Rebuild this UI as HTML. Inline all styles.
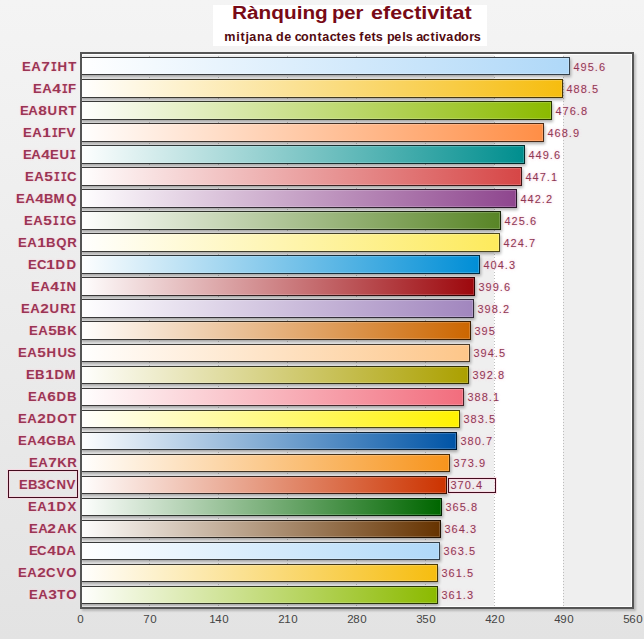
<!DOCTYPE html><html><head><meta charset="utf-8"><style>
*{margin:0;padding:0;box-sizing:border-box}
html,body{width:644px;height:639px;overflow:hidden}
body{position:relative;background:linear-gradient(to bottom,#f4f4f4 0px,#e3e3e3 639px);font-family:"Liberation Sans",sans-serif}
.a{position:absolute}
.t{position:absolute;white-space:nowrap;line-height:1.117}
.tbox{left:213px;top:5px;width:274px;height:41px;background:#fff}
.title{font-weight:bold;font-size:18px;color:#780a16;transform-origin:0 0}
.sub{font-weight:bold;font-size:12px;color:#520a10;transform-origin:0 0}
.plot{left:80px;top:52px;width:554px;height:557px;border:2px solid #555555;box-shadow:2px 2px 2px rgba(0,0,0,0.2)}
.band{top:54px;height:553px}
.grid{top:56px;height:550px;width:1px;background:repeating-linear-gradient(to bottom,#bdbdbd 0,#bdbdbd 1px,transparent 1px,transparent 3px)}
.bar{left:81px;}
.val{font-size:11px;color:#8c3654;transform-origin:0 0;text-shadow:0 0 2px rgba(240,150,175,0.5),0 0 4px rgba(255,240,245,0.9),0 0 4px rgba(255,240,245,0.9)}
.cat{font-size:12px;font-weight:bold;color:#9a3454;text-align:right;text-shadow:0 0 2px rgba(240,150,175,0.45),0 0 4px rgba(255,240,245,0.8)}
.xl{font-size:10px;color:#444;transform-origin:50% 0;text-align:center;width:40px}
.box{border:1px solid #420c1e;box-shadow:0 0 0 1px rgba(255,205,220,0.55),inset 0 0 0 1px rgba(255,205,220,0.55)}
.c{display:inline-block;text-align:center}
</style></head><body>

<div class="a tbox"></div>
<div class="t title" style="left:231.55px;top:2.71px;transform:scaleX(1.1543)">Rànquing</div>
<div class="t title" style="left:332.48px;top:2.71px;transform:scaleX(1.1222)">per</div>
<div class="t title" style="left:371.20px;top:2.71px;transform:scaleX(1.1976)">efectivitat</div>
<div class="t sub" style="left:224.1px;top:31.14px"><span class="c" style="width:11.797px;transform:scaleX(1.050)">m</span><span class="c" style="width:3.813px;transform:scaleX(1.050)">i</span><span class="c" style="width:5.084px;transform:scaleX(1.050)">t</span><span class="c" style="width:4.493px;transform:scaleX(1.050)">j</span><span class="c" style="width:7.448px;transform:scaleX(1.050)">a</span><span class="c" style="width:7.939px;transform:scaleX(1.050)">n</span><span class="c" style="width:7.448px;transform:scaleX(1.050)">a</span><span class="c" style="width:3.813px"> </span><span class="c" style="width:7.794px;transform:scaleX(1.050)">d</span><span class="c" style="width:7.404px;transform:scaleX(1.050)">e</span><span class="c" style="width:3.813px"> </span><span class="c" style="width:6.556px;transform:scaleX(1.050)">c</span><span class="c" style="width:7.660px;transform:scaleX(1.050)">o</span><span class="c" style="width:7.939px;transform:scaleX(1.050)">n</span><span class="c" style="width:5.084px;transform:scaleX(1.050)">t</span><span class="c" style="width:7.448px;transform:scaleX(1.050)">a</span><span class="c" style="width:6.556px;transform:scaleX(1.050)">c</span><span class="c" style="width:5.084px;transform:scaleX(1.050)">t</span><span class="c" style="width:7.404px;transform:scaleX(1.050)">e</span><span class="c" style="width:6.612px;transform:scaleX(1.050)">s</span><span class="c" style="width:3.813px"> </span><span class="c" style="width:4.705px;transform:scaleX(1.050)">f</span><span class="c" style="width:7.404px;transform:scaleX(1.050)">e</span><span class="c" style="width:5.084px;transform:scaleX(1.050)">t</span><span class="c" style="width:6.612px;transform:scaleX(1.050)">s</span><span class="c" style="width:3.813px"> </span><span class="c" style="width:7.794px;transform:scaleX(1.050)">p</span><span class="c" style="width:7.404px;transform:scaleX(1.050)">e</span><span class="c" style="width:3.813px;transform:scaleX(1.050)">l</span><span class="c" style="width:6.612px;transform:scaleX(1.050)">s</span><span class="c" style="width:3.813px"> </span><span class="c" style="width:7.448px;transform:scaleX(1.050)">a</span><span class="c" style="width:6.556px;transform:scaleX(1.050)">c</span><span class="c" style="width:5.084px;transform:scaleX(1.050)">t</span><span class="c" style="width:3.813px;transform:scaleX(1.050)">i</span><span class="c" style="width:7.248px;transform:scaleX(1.050)">v</span><span class="c" style="width:7.448px;transform:scaleX(1.050)">a</span><span class="c" style="width:7.794px;transform:scaleX(1.050)">d</span><span class="c" style="width:7.660px;transform:scaleX(1.050)">o</span><span class="c" style="width:5.542px;transform:scaleX(1.050)">r</span><span class="c" style="width:6.612px;transform:scaleX(1.050)">s</span></div>
<div class="a band" style="left:82px;width:550px;background:#efefef"></div>
<div class="a band" style="left:494px;width:69px;background:#ffffff"></div>
<div class="a" style="left:82px;top:54px;width:550px;height:553px;border:1px solid #fff"></div>
<div class="a grid" style="left:149px"></div>
<div class="a grid" style="left:218px"></div>
<div class="a grid" style="left:287px"></div>
<div class="a grid" style="left:356px"></div>
<div class="a grid" style="left:425px"></div>
<div class="a grid" style="left:494px"></div>
<div class="a grid" style="left:563px"></div>
<div class="t val" style="left:573.0px;top:60.55px"><span class="c" style="width:7.123px;transform:scaleX(1.000)">4</span><span class="c" style="width:7.123px;transform:scaleX(1.000)">9</span><span class="c" style="width:7.123px;transform:scaleX(1.000)">5</span><span class="c" style="width:4.077px;transform:scaleX(1.000)">.</span><span class="c" style="width:7.123px;transform:scaleX(1.000)">6</span></div>
<div class="t cat" style="right:567.6px;top:60.64px"><span class="c" style="width:8.742px;transform:scaleX(1.100)">E</span><span class="c" style="width:9.933px;transform:scaleX(1.100)">A</span><span class="c" style="width:9.101px;transform:scaleX(1.298)">7</span><span class="c" style="width:6.976px;font-family:'Liberation Mono',monospace;font-size:13px;transform:scaleX(0.8)">I</span><span class="c" style="width:10.714px;transform:scaleX(1.100)">H</span><span class="c" style="width:8.730px;transform:scaleX(1.100)">T</span></div>
<div class="t val" style="left:566.0px;top:82.55px"><span class="c" style="width:7.123px;transform:scaleX(1.000)">4</span><span class="c" style="width:7.123px;transform:scaleX(1.000)">8</span><span class="c" style="width:7.123px;transform:scaleX(1.000)">8</span><span class="c" style="width:4.077px;transform:scaleX(1.000)">.</span><span class="c" style="width:7.123px;transform:scaleX(1.000)">5</span></div>
<div class="t cat" style="right:567.6px;top:82.64px"><span class="c" style="width:8.742px;transform:scaleX(1.100)">E</span><span class="c" style="width:9.933px;transform:scaleX(1.100)">A</span><span class="c" style="width:9.101px;transform:scaleX(1.298)">4</span><span class="c" style="width:6.976px;font-family:'Liberation Mono',monospace;font-size:13px;transform:scaleX(0.8)">I</span><span class="c" style="width:8.294px;transform:scaleX(1.100)">F</span></div>
<div class="t val" style="left:555.0px;top:104.55px"><span class="c" style="width:7.123px;transform:scaleX(1.000)">4</span><span class="c" style="width:7.123px;transform:scaleX(1.000)">7</span><span class="c" style="width:7.123px;transform:scaleX(1.000)">6</span><span class="c" style="width:4.077px;transform:scaleX(1.000)">.</span><span class="c" style="width:7.123px;transform:scaleX(1.000)">8</span></div>
<div class="t cat" style="right:567.6px;top:104.64px"><span class="c" style="width:8.742px;transform:scaleX(1.100)">E</span><span class="c" style="width:9.933px;transform:scaleX(1.100)">A</span><span class="c" style="width:9.101px;transform:scaleX(1.298)">8</span><span class="c" style="width:10.394px;transform:scaleX(1.100)">U</span><span class="c" style="width:9.856px;transform:scaleX(1.100)">R</span><span class="c" style="width:8.730px;transform:scaleX(1.100)">T</span></div>
<div class="t val" style="left:547.0px;top:126.55px"><span class="c" style="width:7.123px;transform:scaleX(1.000)">4</span><span class="c" style="width:7.123px;transform:scaleX(1.000)">6</span><span class="c" style="width:7.123px;transform:scaleX(1.000)">8</span><span class="c" style="width:4.077px;transform:scaleX(1.000)">.</span><span class="c" style="width:7.123px;transform:scaleX(1.000)">9</span></div>
<div class="t cat" style="right:567.6px;top:126.64px"><span class="c" style="width:8.742px;transform:scaleX(1.100)">E</span><span class="c" style="width:9.933px;transform:scaleX(1.100)">A</span><span class="c" style="width:9.101px;transform:scaleX(1.298)">1</span><span class="c" style="width:6.976px;font-family:'Liberation Mono',monospace;font-size:13px;transform:scaleX(0.8)">I</span><span class="c" style="width:8.294px;transform:scaleX(1.100)">F</span><span class="c" style="width:9.933px;transform:scaleX(1.100)">V</span></div>
<div class="t val" style="left:528.0px;top:148.54px"><span class="c" style="width:7.123px;transform:scaleX(1.000)">4</span><span class="c" style="width:7.123px;transform:scaleX(1.000)">4</span><span class="c" style="width:7.123px;transform:scaleX(1.000)">9</span><span class="c" style="width:4.077px;transform:scaleX(1.000)">.</span><span class="c" style="width:7.123px;transform:scaleX(1.000)">6</span></div>
<div class="t cat" style="right:567.6px;top:148.64px"><span class="c" style="width:8.742px;transform:scaleX(1.100)">E</span><span class="c" style="width:9.933px;transform:scaleX(1.100)">A</span><span class="c" style="width:9.101px;transform:scaleX(1.298)">4</span><span class="c" style="width:8.742px;transform:scaleX(1.100)">E</span><span class="c" style="width:10.394px;transform:scaleX(1.100)">U</span><span class="c" style="width:6.976px;font-family:'Liberation Mono',monospace;font-size:13px;transform:scaleX(0.8)">I</span></div>
<div class="t val" style="left:525.0px;top:170.54px"><span class="c" style="width:7.123px;transform:scaleX(1.000)">4</span><span class="c" style="width:7.123px;transform:scaleX(1.000)">4</span><span class="c" style="width:7.123px;transform:scaleX(1.000)">7</span><span class="c" style="width:4.077px;transform:scaleX(1.000)">.</span><span class="c" style="width:7.123px;transform:scaleX(1.000)">1</span></div>
<div class="t cat" style="right:567.6px;top:170.64px"><span class="c" style="width:8.742px;transform:scaleX(1.100)">E</span><span class="c" style="width:9.933px;transform:scaleX(1.100)">A</span><span class="c" style="width:9.101px;transform:scaleX(1.298)">5</span><span class="c" style="width:6.976px;font-family:'Liberation Mono',monospace;font-size:13px;transform:scaleX(0.8)">I</span><span class="c" style="width:6.976px;font-family:'Liberation Mono',monospace;font-size:13px;transform:scaleX(0.8)">I</span><span class="c" style="width:9.395px;transform:scaleX(1.100)">C</span></div>
<div class="t val" style="left:520.0px;top:192.54px"><span class="c" style="width:7.123px;transform:scaleX(1.000)">4</span><span class="c" style="width:7.123px;transform:scaleX(1.000)">4</span><span class="c" style="width:7.123px;transform:scaleX(1.000)">2</span><span class="c" style="width:4.077px;transform:scaleX(1.000)">.</span><span class="c" style="width:7.123px;transform:scaleX(1.000)">2</span></div>
<div class="t cat" style="right:567.6px;top:192.64px"><span class="c" style="width:8.742px;transform:scaleX(1.100)">E</span><span class="c" style="width:9.933px;transform:scaleX(1.100)">A</span><span class="c" style="width:9.101px;transform:scaleX(1.298)">4</span><span class="c" style="width:9.754px;transform:scaleX(1.100)">B</span><span class="c" style="width:12.109px;transform:scaleX(1.100)">M</span><span class="c" style="width:10.880px;transform:scaleX(1.100)">Q</span></div>
<div class="t val" style="left:504.0px;top:214.54px"><span class="c" style="width:7.123px;transform:scaleX(1.000)">4</span><span class="c" style="width:7.123px;transform:scaleX(1.000)">2</span><span class="c" style="width:7.123px;transform:scaleX(1.000)">5</span><span class="c" style="width:4.077px;transform:scaleX(1.000)">.</span><span class="c" style="width:7.123px;transform:scaleX(1.000)">6</span></div>
<div class="t cat" style="right:567.6px;top:214.64px"><span class="c" style="width:8.742px;transform:scaleX(1.100)">E</span><span class="c" style="width:9.933px;transform:scaleX(1.100)">A</span><span class="c" style="width:9.101px;transform:scaleX(1.298)">5</span><span class="c" style="width:6.976px;font-family:'Liberation Mono',monospace;font-size:13px;transform:scaleX(0.8)">I</span><span class="c" style="width:6.976px;font-family:'Liberation Mono',monospace;font-size:13px;transform:scaleX(0.8)">I</span><span class="c" style="width:10.522px;transform:scaleX(1.100)">G</span></div>
<div class="t val" style="left:503.0px;top:236.54px"><span class="c" style="width:7.123px;transform:scaleX(1.000)">4</span><span class="c" style="width:7.123px;transform:scaleX(1.000)">2</span><span class="c" style="width:7.123px;transform:scaleX(1.000)">4</span><span class="c" style="width:4.077px;transform:scaleX(1.000)">.</span><span class="c" style="width:7.123px;transform:scaleX(1.000)">7</span></div>
<div class="t cat" style="right:567.6px;top:236.64px"><span class="c" style="width:8.742px;transform:scaleX(1.100)">E</span><span class="c" style="width:9.933px;transform:scaleX(1.100)">A</span><span class="c" style="width:9.101px;transform:scaleX(1.298)">1</span><span class="c" style="width:9.754px;transform:scaleX(1.100)">B</span><span class="c" style="width:10.880px;transform:scaleX(1.100)">Q</span><span class="c" style="width:9.856px;transform:scaleX(1.100)">R</span></div>
<div class="t val" style="left:483.0px;top:258.55px"><span class="c" style="width:7.123px;transform:scaleX(1.000)">4</span><span class="c" style="width:7.123px;transform:scaleX(1.000)">0</span><span class="c" style="width:7.123px;transform:scaleX(1.000)">4</span><span class="c" style="width:4.077px;transform:scaleX(1.000)">.</span><span class="c" style="width:7.123px;transform:scaleX(1.000)">3</span></div>
<div class="t cat" style="right:567.6px;top:258.64px"><span class="c" style="width:8.742px;transform:scaleX(1.100)">E</span><span class="c" style="width:9.395px;transform:scaleX(1.100)">C</span><span class="c" style="width:9.101px;transform:scaleX(1.298)">1</span><span class="c" style="width:10.624px;transform:scaleX(1.100)">D</span><span class="c" style="width:10.624px;transform:scaleX(1.100)">D</span></div>
<div class="t val" style="left:478.0px;top:280.55px"><span class="c" style="width:7.123px;transform:scaleX(1.000)">3</span><span class="c" style="width:7.123px;transform:scaleX(1.000)">9</span><span class="c" style="width:7.123px;transform:scaleX(1.000)">9</span><span class="c" style="width:4.077px;transform:scaleX(1.000)">.</span><span class="c" style="width:7.123px;transform:scaleX(1.000)">6</span></div>
<div class="t cat" style="right:567.6px;top:280.64px"><span class="c" style="width:8.742px;transform:scaleX(1.100)">E</span><span class="c" style="width:9.933px;transform:scaleX(1.100)">A</span><span class="c" style="width:9.101px;transform:scaleX(1.298)">4</span><span class="c" style="width:6.976px;font-family:'Liberation Mono',monospace;font-size:13px;transform:scaleX(0.8)">I</span><span class="c" style="width:10.714px;transform:scaleX(1.100)">N</span></div>
<div class="t val" style="left:477.0px;top:302.55px"><span class="c" style="width:7.123px;transform:scaleX(1.000)">3</span><span class="c" style="width:7.123px;transform:scaleX(1.000)">9</span><span class="c" style="width:7.123px;transform:scaleX(1.000)">8</span><span class="c" style="width:4.077px;transform:scaleX(1.000)">.</span><span class="c" style="width:7.123px;transform:scaleX(1.000)">2</span></div>
<div class="t cat" style="right:567.6px;top:302.64px"><span class="c" style="width:8.742px;transform:scaleX(1.100)">E</span><span class="c" style="width:9.933px;transform:scaleX(1.100)">A</span><span class="c" style="width:9.101px;transform:scaleX(1.298)">2</span><span class="c" style="width:10.394px;transform:scaleX(1.100)">U</span><span class="c" style="width:9.856px;transform:scaleX(1.100)">R</span><span class="c" style="width:6.976px;font-family:'Liberation Mono',monospace;font-size:13px;transform:scaleX(0.8)">I</span></div>
<div class="t val" style="left:474.0px;top:324.55px"><span class="c" style="width:7.123px;transform:scaleX(1.000)">3</span><span class="c" style="width:7.123px;transform:scaleX(1.000)">9</span><span class="c" style="width:7.123px;transform:scaleX(1.000)">5</span></div>
<div class="t cat" style="right:567.6px;top:324.64px"><span class="c" style="width:8.742px;transform:scaleX(1.100)">E</span><span class="c" style="width:9.933px;transform:scaleX(1.100)">A</span><span class="c" style="width:9.101px;transform:scaleX(1.298)">5</span><span class="c" style="width:9.754px;transform:scaleX(1.100)">B</span><span class="c" style="width:9.920px;transform:scaleX(1.100)">K</span></div>
<div class="t val" style="left:473.0px;top:346.55px"><span class="c" style="width:7.123px;transform:scaleX(1.000)">3</span><span class="c" style="width:7.123px;transform:scaleX(1.000)">9</span><span class="c" style="width:7.123px;transform:scaleX(1.000)">4</span><span class="c" style="width:4.077px;transform:scaleX(1.000)">.</span><span class="c" style="width:7.123px;transform:scaleX(1.000)">5</span></div>
<div class="t cat" style="right:567.6px;top:346.64px"><span class="c" style="width:8.742px;transform:scaleX(1.100)">E</span><span class="c" style="width:9.933px;transform:scaleX(1.100)">A</span><span class="c" style="width:9.101px;transform:scaleX(1.298)">5</span><span class="c" style="width:10.714px;transform:scaleX(1.100)">H</span><span class="c" style="width:10.394px;transform:scaleX(1.100)">U</span><span class="c" style="width:9.216px;transform:scaleX(1.100)">S</span></div>
<div class="t val" style="left:472.0px;top:368.55px"><span class="c" style="width:7.123px;transform:scaleX(1.000)">3</span><span class="c" style="width:7.123px;transform:scaleX(1.000)">9</span><span class="c" style="width:7.123px;transform:scaleX(1.000)">2</span><span class="c" style="width:4.077px;transform:scaleX(1.000)">.</span><span class="c" style="width:7.123px;transform:scaleX(1.000)">8</span></div>
<div class="t cat" style="right:567.6px;top:368.64px"><span class="c" style="width:8.742px;transform:scaleX(1.100)">E</span><span class="c" style="width:9.754px;transform:scaleX(1.100)">B</span><span class="c" style="width:9.101px;transform:scaleX(1.298)">1</span><span class="c" style="width:10.624px;transform:scaleX(1.100)">D</span><span class="c" style="width:12.109px;transform:scaleX(1.100)">M</span></div>
<div class="t val" style="left:467.0px;top:390.55px"><span class="c" style="width:7.123px;transform:scaleX(1.000)">3</span><span class="c" style="width:7.123px;transform:scaleX(1.000)">8</span><span class="c" style="width:7.123px;transform:scaleX(1.000)">8</span><span class="c" style="width:4.077px;transform:scaleX(1.000)">.</span><span class="c" style="width:7.123px;transform:scaleX(1.000)">1</span></div>
<div class="t cat" style="right:567.6px;top:390.64px"><span class="c" style="width:8.742px;transform:scaleX(1.100)">E</span><span class="c" style="width:9.933px;transform:scaleX(1.100)">A</span><span class="c" style="width:9.101px;transform:scaleX(1.298)">6</span><span class="c" style="width:10.624px;transform:scaleX(1.100)">D</span><span class="c" style="width:9.754px;transform:scaleX(1.100)">B</span></div>
<div class="t val" style="left:463.0px;top:412.55px"><span class="c" style="width:7.123px;transform:scaleX(1.000)">3</span><span class="c" style="width:7.123px;transform:scaleX(1.000)">8</span><span class="c" style="width:7.123px;transform:scaleX(1.000)">3</span><span class="c" style="width:4.077px;transform:scaleX(1.000)">.</span><span class="c" style="width:7.123px;transform:scaleX(1.000)">5</span></div>
<div class="t cat" style="right:567.6px;top:412.64px"><span class="c" style="width:8.742px;transform:scaleX(1.100)">E</span><span class="c" style="width:9.933px;transform:scaleX(1.100)">A</span><span class="c" style="width:9.101px;transform:scaleX(1.298)">2</span><span class="c" style="width:10.624px;transform:scaleX(1.100)">D</span><span class="c" style="width:10.880px;transform:scaleX(1.100)">O</span><span class="c" style="width:8.730px;transform:scaleX(1.100)">T</span></div>
<div class="t val" style="left:460.0px;top:434.55px"><span class="c" style="width:7.123px;transform:scaleX(1.000)">3</span><span class="c" style="width:7.123px;transform:scaleX(1.000)">8</span><span class="c" style="width:7.123px;transform:scaleX(1.000)">0</span><span class="c" style="width:4.077px;transform:scaleX(1.000)">.</span><span class="c" style="width:7.123px;transform:scaleX(1.000)">7</span></div>
<div class="t cat" style="right:567.6px;top:434.64px"><span class="c" style="width:8.742px;transform:scaleX(1.100)">E</span><span class="c" style="width:9.933px;transform:scaleX(1.100)">A</span><span class="c" style="width:9.101px;transform:scaleX(1.298)">4</span><span class="c" style="width:10.522px;transform:scaleX(1.100)">G</span><span class="c" style="width:9.754px;transform:scaleX(1.100)">B</span><span class="c" style="width:9.933px;transform:scaleX(1.100)">A</span></div>
<div class="t val" style="left:453.0px;top:456.55px"><span class="c" style="width:7.123px;transform:scaleX(1.000)">3</span><span class="c" style="width:7.123px;transform:scaleX(1.000)">7</span><span class="c" style="width:7.123px;transform:scaleX(1.000)">3</span><span class="c" style="width:4.077px;transform:scaleX(1.000)">.</span><span class="c" style="width:7.123px;transform:scaleX(1.000)">9</span></div>
<div class="t cat" style="right:567.6px;top:456.64px"><span class="c" style="width:8.742px;transform:scaleX(1.100)">E</span><span class="c" style="width:9.933px;transform:scaleX(1.100)">A</span><span class="c" style="width:9.101px;transform:scaleX(1.298)">7</span><span class="c" style="width:9.920px;transform:scaleX(1.100)">K</span><span class="c" style="width:9.856px;transform:scaleX(1.100)">R</span></div>
<div class="t val" style="left:450.0px;top:478.55px"><span class="c" style="width:7.123px;transform:scaleX(1.000)">3</span><span class="c" style="width:7.123px;transform:scaleX(1.000)">7</span><span class="c" style="width:7.123px;transform:scaleX(1.000)">0</span><span class="c" style="width:4.077px;transform:scaleX(1.000)">.</span><span class="c" style="width:7.123px;transform:scaleX(1.000)">4</span></div>
<div class="t cat" style="right:567.6px;top:478.64px"><span class="c" style="width:8.742px;transform:scaleX(1.100)">E</span><span class="c" style="width:9.754px;transform:scaleX(1.100)">B</span><span class="c" style="width:9.101px;transform:scaleX(1.298)">3</span><span class="c" style="width:9.395px;transform:scaleX(1.100)">C</span><span class="c" style="width:10.714px;transform:scaleX(1.100)">N</span><span class="c" style="width:9.933px;transform:scaleX(1.100)">V</span></div>
<div class="t val" style="left:445.0px;top:500.55px"><span class="c" style="width:7.123px;transform:scaleX(1.000)">3</span><span class="c" style="width:7.123px;transform:scaleX(1.000)">6</span><span class="c" style="width:7.123px;transform:scaleX(1.000)">5</span><span class="c" style="width:4.077px;transform:scaleX(1.000)">.</span><span class="c" style="width:7.123px;transform:scaleX(1.000)">8</span></div>
<div class="t cat" style="right:567.6px;top:500.64px"><span class="c" style="width:8.742px;transform:scaleX(1.100)">E</span><span class="c" style="width:9.933px;transform:scaleX(1.100)">A</span><span class="c" style="width:9.101px;transform:scaleX(1.298)">1</span><span class="c" style="width:10.624px;transform:scaleX(1.100)">D</span><span class="c" style="width:9.869px;transform:scaleX(1.100)">X</span></div>
<div class="t val" style="left:444.0px;top:522.54px"><span class="c" style="width:7.123px;transform:scaleX(1.000)">3</span><span class="c" style="width:7.123px;transform:scaleX(1.000)">6</span><span class="c" style="width:7.123px;transform:scaleX(1.000)">4</span><span class="c" style="width:4.077px;transform:scaleX(1.000)">.</span><span class="c" style="width:7.123px;transform:scaleX(1.000)">3</span></div>
<div class="t cat" style="right:567.6px;top:522.64px"><span class="c" style="width:8.742px;transform:scaleX(1.100)">E</span><span class="c" style="width:9.933px;transform:scaleX(1.100)">A</span><span class="c" style="width:9.101px;transform:scaleX(1.298)">2</span><span class="c" style="width:9.933px;transform:scaleX(1.100)">A</span><span class="c" style="width:9.920px;transform:scaleX(1.100)">K</span></div>
<div class="t val" style="left:443.0px;top:544.54px"><span class="c" style="width:7.123px;transform:scaleX(1.000)">3</span><span class="c" style="width:7.123px;transform:scaleX(1.000)">6</span><span class="c" style="width:7.123px;transform:scaleX(1.000)">3</span><span class="c" style="width:4.077px;transform:scaleX(1.000)">.</span><span class="c" style="width:7.123px;transform:scaleX(1.000)">5</span></div>
<div class="t cat" style="right:567.6px;top:544.64px"><span class="c" style="width:8.742px;transform:scaleX(1.100)">E</span><span class="c" style="width:9.395px;transform:scaleX(1.100)">C</span><span class="c" style="width:9.101px;transform:scaleX(1.298)">4</span><span class="c" style="width:10.624px;transform:scaleX(1.100)">D</span><span class="c" style="width:9.933px;transform:scaleX(1.100)">A</span></div>
<div class="t val" style="left:441.0px;top:566.54px"><span class="c" style="width:7.123px;transform:scaleX(1.000)">3</span><span class="c" style="width:7.123px;transform:scaleX(1.000)">6</span><span class="c" style="width:7.123px;transform:scaleX(1.000)">1</span><span class="c" style="width:4.077px;transform:scaleX(1.000)">.</span><span class="c" style="width:7.123px;transform:scaleX(1.000)">5</span></div>
<div class="t cat" style="right:567.6px;top:566.64px"><span class="c" style="width:8.742px;transform:scaleX(1.100)">E</span><span class="c" style="width:9.933px;transform:scaleX(1.100)">A</span><span class="c" style="width:9.101px;transform:scaleX(1.298)">2</span><span class="c" style="width:9.395px;transform:scaleX(1.100)">C</span><span class="c" style="width:9.933px;transform:scaleX(1.100)">V</span><span class="c" style="width:10.880px;transform:scaleX(1.100)">O</span></div>
<div class="t val" style="left:441.0px;top:588.54px"><span class="c" style="width:7.123px;transform:scaleX(1.000)">3</span><span class="c" style="width:7.123px;transform:scaleX(1.000)">6</span><span class="c" style="width:7.123px;transform:scaleX(1.000)">1</span><span class="c" style="width:4.077px;transform:scaleX(1.000)">.</span><span class="c" style="width:7.123px;transform:scaleX(1.000)">3</span></div>
<div class="t cat" style="right:567.6px;top:588.64px"><span class="c" style="width:8.742px;transform:scaleX(1.100)">E</span><span class="c" style="width:9.933px;transform:scaleX(1.100)">A</span><span class="c" style="width:9.101px;transform:scaleX(1.298)">3</span><span class="c" style="width:8.730px;transform:scaleX(1.100)">T</span><span class="c" style="width:10.880px;transform:scaleX(1.100)">O</span></div>
<div class="a" style="left:82px;top:54px;width:550px;height:553px;overflow:hidden"><div class="a" style="left:-4px;top:3px;width:492px;height:18px;background:linear-gradient(to right,#3a3a3a,#34404a);box-shadow:1px 2px 3px rgba(0,0,0,0.32)"><div class="a" style="left:1px;top:1px;right:1px;bottom:1px;background:linear-gradient(to right,#fff,#AFD8F8);box-shadow:inset 0 0 0 1px rgba(255,255,255,0.18)"></div></div><div class="a" style="left:-4px;top:25px;width:485px;height:19px;background:linear-gradient(to right,#3a3a3a,#493804);box-shadow:1px 2px 3px rgba(0,0,0,0.32)"><div class="a" style="left:1px;top:1px;right:1px;bottom:1px;background:linear-gradient(to right,#fff,#F6BD0F);box-shadow:inset 0 0 0 1px rgba(255,255,255,0.18)"></div></div><div class="a" style="left:-4px;top:47px;width:474px;height:19px;background:linear-gradient(to right,#3a3a3a,#293700);box-shadow:1px 2px 3px rgba(0,0,0,0.32)"><div class="a" style="left:1px;top:1px;right:1px;bottom:1px;background:linear-gradient(to right,#fff,#8BBA00);box-shadow:inset 0 0 0 1px rgba(255,255,255,0.18)"></div></div><div class="a" style="left:-4px;top:69px;width:466px;height:19px;background:linear-gradient(to right,#3a3a3a,#4c2a15);box-shadow:1px 2px 3px rgba(0,0,0,0.32)"><div class="a" style="left:1px;top:1px;right:1px;bottom:1px;background:linear-gradient(to right,#fff,#FF8E46);box-shadow:inset 0 0 0 1px rgba(255,255,255,0.18)"></div></div><div class="a" style="left:-4px;top:91px;width:447px;height:19px;background:linear-gradient(to right,#3a3a3a,#002a2a);box-shadow:1px 2px 3px rgba(0,0,0,0.32)"><div class="a" style="left:1px;top:1px;right:1px;bottom:1px;background:linear-gradient(to right,#fff,#008E8E);box-shadow:inset 0 0 0 1px rgba(255,255,255,0.18)"></div></div><div class="a" style="left:-4px;top:113px;width:444px;height:19px;background:linear-gradient(to right,#3a3a3a,#401515);box-shadow:1px 2px 3px rgba(0,0,0,0.32)"><div class="a" style="left:1px;top:1px;right:1px;bottom:1px;background:linear-gradient(to right,#fff,#D64646);box-shadow:inset 0 0 0 1px rgba(255,255,255,0.18)"></div></div><div class="a" style="left:-4px;top:135px;width:439px;height:19px;background:linear-gradient(to right,#3a3a3a,#2a152a);box-shadow:1px 2px 3px rgba(0,0,0,0.32)"><div class="a" style="left:1px;top:1px;right:1px;bottom:1px;background:linear-gradient(to right,#fff,#8E468E);box-shadow:inset 0 0 0 1px rgba(255,255,255,0.18)"></div></div><div class="a" style="left:-4px;top:157px;width:423px;height:19px;background:linear-gradient(to right,#3a3a3a,#1a270b);box-shadow:1px 2px 3px rgba(0,0,0,0.32)"><div class="a" style="left:1px;top:1px;right:1px;bottom:1px;background:linear-gradient(to right,#fff,#588526);box-shadow:inset 0 0 0 1px rgba(255,255,255,0.18)"></div></div><div class="a" style="left:-4px;top:179px;width:422px;height:19px;background:linear-gradient(to right,#3a3a3a,#4b461b);box-shadow:1px 2px 3px rgba(0,0,0,0.32)"><div class="a" style="left:1px;top:1px;right:1px;bottom:1px;background:linear-gradient(to right,#fff,#FDEA5C);box-shadow:inset 0 0 0 1px rgba(255,255,255,0.18)"></div></div><div class="a" style="left:-4px;top:201px;width:402px;height:19px;background:linear-gradient(to right,#3a3a3a,#002a40);box-shadow:1px 2px 3px rgba(0,0,0,0.32)"><div class="a" style="left:1px;top:1px;right:1px;bottom:1px;background:linear-gradient(to right,#fff,#008ED6);box-shadow:inset 0 0 0 1px rgba(255,255,255,0.18)"></div></div><div class="a" style="left:-4px;top:223px;width:397px;height:19px;background:linear-gradient(to right,#3a3a3a,#2f0203);box-shadow:1px 2px 3px rgba(0,0,0,0.32)"><div class="a" style="left:1px;top:1px;right:1px;bottom:1px;background:linear-gradient(to right,#fff,#9D080D);box-shadow:inset 0 0 0 1px rgba(255,255,255,0.18)"></div></div><div class="a" style="left:-4px;top:245px;width:396px;height:19px;background:linear-gradient(to right,#3a3a3a,#302839);box-shadow:1px 2px 3px rgba(0,0,0,0.32)"><div class="a" style="left:1px;top:1px;right:1px;bottom:1px;background:linear-gradient(to right,#fff,#A186BE);box-shadow:inset 0 0 0 1px rgba(255,255,255,0.18)"></div></div><div class="a" style="left:-4px;top:267px;width:393px;height:19px;background:linear-gradient(to right,#3a3a3a,#3d1e00);box-shadow:1px 2px 3px rgba(0,0,0,0.32)"><div class="a" style="left:1px;top:1px;right:1px;bottom:1px;background:linear-gradient(to right,#fff,#CC6600);box-shadow:inset 0 0 0 1px rgba(255,255,255,0.18)"></div></div><div class="a" style="left:-4px;top:290px;width:392px;height:18px;background:linear-gradient(to right,#3a3a3a,#4b3b29);box-shadow:1px 2px 3px rgba(0,0,0,0.32)"><div class="a" style="left:1px;top:1px;right:1px;bottom:1px;background:linear-gradient(to right,#fff,#FDC689);box-shadow:inset 0 0 0 1px rgba(255,255,255,0.18)"></div></div><div class="a" style="left:-4px;top:312px;width:391px;height:18px;background:linear-gradient(to right,#3a3a3a,#333000);box-shadow:1px 2px 3px rgba(0,0,0,0.32)"><div class="a" style="left:1px;top:1px;right:1px;bottom:1px;background:linear-gradient(to right,#fff,#ABA000);box-shadow:inset 0 0 0 1px rgba(255,255,255,0.18)"></div></div><div class="a" style="left:-4px;top:334px;width:386px;height:18px;background:linear-gradient(to right,#3a3a3a,#482025);box-shadow:1px 2px 3px rgba(0,0,0,0.32)"><div class="a" style="left:1px;top:1px;right:1px;bottom:1px;background:linear-gradient(to right,#fff,#F26D7D);box-shadow:inset 0 0 0 1px rgba(255,255,255,0.18)"></div></div><div class="a" style="left:-4px;top:356px;width:382px;height:18px;background:linear-gradient(to right,#3a3a3a,#4c4800);box-shadow:1px 2px 3px rgba(0,0,0,0.32)"><div class="a" style="left:1px;top:1px;right:1px;bottom:1px;background:linear-gradient(to right,#fff,#FFF200);box-shadow:inset 0 0 0 1px rgba(255,255,255,0.18)"></div></div><div class="a" style="left:-4px;top:378px;width:379px;height:18px;background:linear-gradient(to right,#3a3a3a,#001931);box-shadow:1px 2px 3px rgba(0,0,0,0.32)"><div class="a" style="left:1px;top:1px;right:1px;bottom:1px;background:linear-gradient(to right,#fff,#0054A6);box-shadow:inset 0 0 0 1px rgba(255,255,255,0.18)"></div></div><div class="a" style="left:-4px;top:400px;width:372px;height:18px;background:linear-gradient(to right,#3a3a3a,#4a2c08);box-shadow:1px 2px 3px rgba(0,0,0,0.32)"><div class="a" style="left:1px;top:1px;right:1px;bottom:1px;background:linear-gradient(to right,#fff,#F7941C);box-shadow:inset 0 0 0 1px rgba(255,255,255,0.18)"></div></div><div class="a" style="left:-4px;top:422px;width:369px;height:18px;background:linear-gradient(to right,#3a3a3a,#3d0f00);box-shadow:1px 2px 3px rgba(0,0,0,0.32)"><div class="a" style="left:1px;top:1px;right:1px;bottom:1px;background:linear-gradient(to right,#fff,#CC3300);box-shadow:inset 0 0 0 1px rgba(255,255,255,0.18)"></div></div><div class="a" style="left:-4px;top:444px;width:364px;height:18px;background:linear-gradient(to right,#3a3a3a,#001e00);box-shadow:1px 2px 3px rgba(0,0,0,0.32)"><div class="a" style="left:1px;top:1px;right:1px;bottom:1px;background:linear-gradient(to right,#fff,#006600);box-shadow:inset 0 0 0 1px rgba(255,255,255,0.18)"></div></div><div class="a" style="left:-4px;top:466px;width:363px;height:18px;background:linear-gradient(to right,#3a3a3a,#1e0f00);box-shadow:1px 2px 3px rgba(0,0,0,0.32)"><div class="a" style="left:1px;top:1px;right:1px;bottom:1px;background:linear-gradient(to right,#fff,#663300);box-shadow:inset 0 0 0 1px rgba(255,255,255,0.18)"></div></div><div class="a" style="left:-4px;top:488px;width:362px;height:18px;background:linear-gradient(to right,#3a3a3a,#34404a);box-shadow:1px 2px 3px rgba(0,0,0,0.32)"><div class="a" style="left:1px;top:1px;right:1px;bottom:1px;background:linear-gradient(to right,#fff,#AFD8F8);box-shadow:inset 0 0 0 1px rgba(255,255,255,0.18)"></div></div><div class="a" style="left:-4px;top:510px;width:360px;height:18px;background:linear-gradient(to right,#3a3a3a,#493804);box-shadow:1px 2px 3px rgba(0,0,0,0.32)"><div class="a" style="left:1px;top:1px;right:1px;bottom:1px;background:linear-gradient(to right,#fff,#F6BD0F);box-shadow:inset 0 0 0 1px rgba(255,255,255,0.18)"></div></div><div class="a" style="left:-4px;top:532px;width:360px;height:18px;background:linear-gradient(to right,#3a3a3a,#293700);box-shadow:1px 2px 3px rgba(0,0,0,0.32)"><div class="a" style="left:1px;top:1px;right:1px;bottom:1px;background:linear-gradient(to right,#fff,#8BBA00);box-shadow:inset 0 0 0 1px rgba(255,255,255,0.18)"></div></div></div>
<div class="a plot"></div>
<div class="t xl" style="left:60.9px;top:613.55px"><span class="c" style="width:6.869px;transform:scaleX(1.150)">0</span></div>
<div class="t xl" style="left:129.9px;top:613.55px"><span class="c" style="width:6.869px;transform:scaleX(1.150)">7</span><span class="c" style="width:6.869px;transform:scaleX(1.150)">0</span></div>
<div class="t xl" style="left:198.9px;top:613.55px"><span class="c" style="width:6.869px;transform:scaleX(1.150)">1</span><span class="c" style="width:6.869px;transform:scaleX(1.150)">4</span><span class="c" style="width:6.869px;transform:scaleX(1.150)">0</span></div>
<div class="t xl" style="left:267.9px;top:613.55px"><span class="c" style="width:6.869px;transform:scaleX(1.150)">2</span><span class="c" style="width:6.869px;transform:scaleX(1.150)">1</span><span class="c" style="width:6.869px;transform:scaleX(1.150)">0</span></div>
<div class="t xl" style="left:336.9px;top:613.55px"><span class="c" style="width:6.869px;transform:scaleX(1.150)">2</span><span class="c" style="width:6.869px;transform:scaleX(1.150)">8</span><span class="c" style="width:6.869px;transform:scaleX(1.150)">0</span></div>
<div class="t xl" style="left:405.9px;top:613.55px"><span class="c" style="width:6.869px;transform:scaleX(1.150)">3</span><span class="c" style="width:6.869px;transform:scaleX(1.150)">5</span><span class="c" style="width:6.869px;transform:scaleX(1.150)">0</span></div>
<div class="t xl" style="left:474.9px;top:613.55px"><span class="c" style="width:6.869px;transform:scaleX(1.150)">4</span><span class="c" style="width:6.869px;transform:scaleX(1.150)">2</span><span class="c" style="width:6.869px;transform:scaleX(1.150)">0</span></div>
<div class="t xl" style="left:543.9px;top:613.55px"><span class="c" style="width:6.869px;transform:scaleX(1.150)">4</span><span class="c" style="width:6.869px;transform:scaleX(1.150)">9</span><span class="c" style="width:6.869px;transform:scaleX(1.150)">0</span></div>
<div class="t xl" style="left:612.9px;top:613.55px"><span class="c" style="width:6.869px;transform:scaleX(1.150)">5</span><span class="c" style="width:6.869px;transform:scaleX(1.150)">6</span><span class="c" style="width:6.869px;transform:scaleX(1.150)">0</span></div>
<div class="a box" style="left:8px;top:470px;width:70px;height:28px"></div>
<div class="a box" style="left:448px;top:478px;width:48px;height:15px"></div>
</body></html>
